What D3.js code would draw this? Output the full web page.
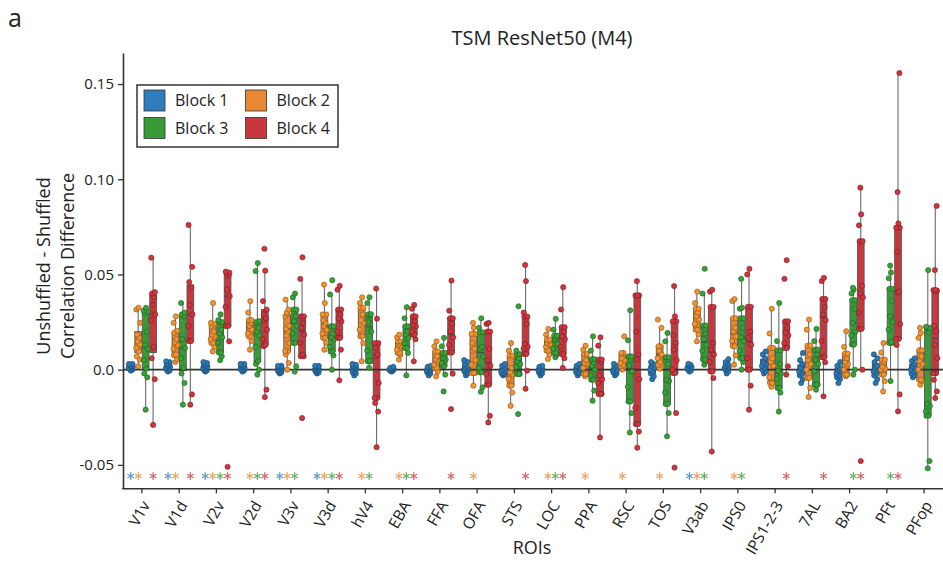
<!DOCTYPE html>
<meta charset="utf-8">
<style>
  body { margin: 0; background: #fff; }
  text { font-family: "Open Sans", sans-serif; fill: #222; }
  .tick text { font-size: 15px; }
  .axis path, .axis line { stroke: #333; }
</style>
<body>
<div id="vis"></div>
<script src="https://cdn.jsdelivr.net/npm/d3@7/dist/d3.min.js"></script>
<script>

const width = 943,
    height = 563;

const rois = ['V1v','V1d','V2v','V2d','V3v','V3d','hV4','EBA','FFA','OFA','STS','LOC','PPA','RSC','TOS','V3ab','IPS0','IPS1-2-3','7AL','BA2','PFt','PFop'];
const blocks = ['Block 1','Block 2','Block 3','Block 4'];
const unit = 1e-3; // values below are in thousandths

// one list of values per ROI, same order as rois
const block1 = [
  [-0.5,0,0.5,1,1,1.5,2,2,2.5,3,3],
  [-1,-0.5,0,0.5,1,1.5,2,2.5,3,4,4.4],
  [-1,-0.5,0,0.5,1,1.5,2,2.5,3,3.5,4],
  [-1,-0.5,0,0,0.5,1,1.5,2,2.5,3,3],
  [-2,-1.5,-1,-0.5,0,0.5,0.5,1,1.5,2,2],
  [-2,-1.5,-1,-0.5,0,0,0.5,1,1.5,2,2],
  [-3,-2,-1.5,-1,0,0.5,1,1.5,2,2.5,3],
  [-1,-0.5,-0.5,0,0,0.5,0.5,1,1,1.5],
  [-3,-2,-1.5,-1,-0.5,0,0.5,1,1.5,2],
  [-3,-2,-1,-0.5,0,0.5,1,2,3,4,5],
  [-3,-2.5,-2,-1.5,-1,-0.5,0,1,2,3],
  [-3,-2,-1.5,-1,-0.5,0,0.5,1,1.5,2],
  [-3,-2,-1.5,-1,0,0.5,1,1.5,2,3],
  [-3,-2,-1.5,-1,-0.5,0,1,2,3],
  [-5,-3.5,-2,-1,0,1,2,3,4],
  [-1,-0.5,0,0.5,1,1.5,2,2.5,3],
  [-2,-1,0,0.5,1,1.5,2,3,4,5.5],
  [-2,-1,0,1,2,3,4,6,8,9.6],
  [-7,-5,-3,-2,-1,0,1,3,5,8.8],
  [-7,-5,-4,-3,-2,-1,0,1,2,4],
  [-7,-5,-3,-2,-1,0,1,2,4,6,8],
  [-4,-3,-2,-1,0,1,2,3,4.5,6]
];
const block2 = [
  [1.8,5.3,7,9.6,11.4,13.2,14.9,16.7,18.4,24.6,31.6,32.5],
  [4,5.5,7.5,8,11,13,14.5,16,19.5,20.5,24.6,28],
  [9.6,12,14,14,16,17.5,18.4,20,23,24,24.6,35],
  [10.5,15,17.5,17.5,19,21,23,24.5,26,26,30,36],
  [0,3.5,8,9.6,9.8,14,18,20,21.5,23,28,29.2,30,31.6,36.8],
  [10.5,14,16.7,16.7,19,21,22.8,24.6,26,29,29,35,44.7],
  [4.4,14,17.5,17.5,21,24.6,26,29,32.5,32.5,35,38],
  [5.3,7.9,8.8,8.8,10.5,12.3,13,14,14.9,14.9,17,18.4],
  [-3.5,-1,0.9,0.9,2.6,4.4,5.5,7,9.6,9.6,12.3,14.9],
  [-8.4,-1.8,-1.8,-1.8,2.5,5,10,11,14,18.8,18.8,22,24.6],
  [-19,-12,-8.4,-8.4,-5,-2.6,-1.5,1,7.4,7.4,10,14],
  [5.6,8,10,10,12,13.3,14,15,15.8,15.8,18.4,21.4],
  [-3.5,-2.3,-2.3,-2.3,1,3,3.5,5,8.2,8.2,10.5,12.6],
  [0,1.8,1.8,2.5,3.5,5,6,8.8,8.8,17.5],
  [0.5,2.6,2.6,4,6,8,10,12.3,12.3,22,26.3],
  [14.9,18.5,21,21,24,26.3,28,30,32,32,35,41],
  [2.6,7.5,12.3,12.3,15,17.5,20,22,27,27,36,37],
  [-9,-7,-7,-7,-4,2,4,6,11.4,11.4,19,32],
  [-14.4,-9.6,-4.4,-4.4,0,3,5,8,12.6,12.6,21,26.3],
  [-3.5,-2.6,-2.6,-2.6,0,3,4,6,8.4,8.4,12,20.2],
  [-11.4,-6,-2.6,-2.6,0,0.5,1.5,4,5.3,5.3,9,14],
  [-7.9,-6,-5.3,-5.3,0,3,4.5,7,10.2,10.2,16.7,19.3,22]
];
const block3 = [
  [-21,-4,-2,0.5,5,11,13,20,30,30.5,31,32.5],
  [-18.4,-7,-2,1,6,11.4,16,28,29,30,35],
  [5,7,9,9,14,17,19,21,25,25,26,29],
  [-2.6,0,3,4.5,12,18,20,22,25,25.5,51.8,56],
  [-1,1.8,14,14,19,23,25.4,28,31.6,31.6,38,40],
  [0,7.5,9.6,9.6,12,15.8,17,19,22.8,22.8,39.5,47],
  [1,4.4,4.4,4.6,10,20,25,28.5,29,29.2,35,38],
  [-3,8.8,11.4,11.4,14,16.7,18.4,20,22.8,22.8,27,32.8],
  [-11.4,-2.6,1.8,1.8,3.5,5.3,6.1,7.9,8.8,8.8,12.3,16.7],
  [-11.6,-9.3,-1.4,-1.4,1,7,11,12,19.6,19.6,22,27],
  [-23.3,-2.3,-2.3,-2.3,1.5,3,4.5,6,8.2,8.2,10,33.3],
  [6.5,8,8.8,8.8,11,13.5,15.8,17,17.9,17.9,21,26.7],
  [-16.3,-11,-5.3,-5.3,-3,0,2,4,5.6,5.6,10,17.5],
  [-33,-22.8,-16.7,-16.7,-9,-1,2,5.3,7,7,15.4,31.2],
  [-35,-22.8,-18,-18,-12,-6,-5.3,3,6.5,6.5,14.9,19.3],
  [2.6,4.4,5.3,5.3,10,13,16,19,23.2,23.2,40,53],
  [0,4,6,6,10,15,17,22,27,27,32,32.5,47.7],
  [-22,-12,-9.6,-9.6,-5,-2,-0.5,3,10.2,10.2,15,35],
  [-10.5,-7.9,-7.9,-7.9,-1,3,5,8,10.5,10.5,15,21.4],
  [-2.6,0,13.2,13.2,18,20,24.6,32,36.5,36.5,40,42,43],
  [-6,14,14,14.5,21,25,28,36,42.5,42.5,48,51,54.7],
  [-51.8,-48,-24.2,-24.2,-22,-19,-18,19.5,22,22,22.5,52.3]
];
const block4 = [
  [-29,-5,6,12,26,29,34,38,40,40.7,58.8],
  [-18.4,-13,15,15,23,29,34,43,46,54,76],
  [-51,14.9,22.8,23,33,38.6,42,49.5,50.5,51,51.5],
  [-14.4,-10.5,12.3,13,16,21,26,27,29,31.6,36,52,63.5],
  [-25.4,7,7,8,14,18.4,22,24.6,28,28,47.7,59],
  [-5.6,10.5,16.7,16.7,20,25.4,27,29,31.6,31.6,42,44],
  [-40.7,-22,-17.5,-14.9,-14.9,-7,7,8,11.5,14,14,26.8,42.6],
  [4.4,16,18.4,18.4,20,22.8,23.5,25.4,28,28,32,34],
  [-20.7,-2.1,9,9,13,17,20,24,27,27,31,46.8],
  [-27.7,-24.2,-7.9,-7.9,-2.3,2.1,5,11,20,20,24,24.6],
  [-10,-0.5,8.2,8.2,11,12,13.5,24,27.9,27.9,30,46.5,55],
  [0.9,6,8.2,8.2,12,16,17.5,20,22.3,22.3,31.6,43.3],
  [-35.6,-12.8,-12.8,-12.8,-7,-5,-3,4,5.3,5.3,12.6,17],
  [-41,-32.5,-28.6,-28.6,-20,-5,5.3,8,20,39,39,39,46.5],
  [-51.4,-22.8,-1.8,-1.8,0,5,10.5,14,18,25.4,25.4,28,43.9],
  [-43,-4.4,-0.9,-0.9,4,8,10.5,14,33,33,41,42],
  [-21,-8.4,0,0,6,13,16.7,20,33,33,50,53],
  [-2.6,1.8,11.4,11.4,14,18,19.5,22,25.4,25.4,47.7,57.5],
  [-14,3.9,6.5,6.5,15,26,29,33,37.2,37.2,46.5,48.2],
  [-48,0,21.4,21.4,30,38,40,44,67.5,67.5,75.8,81.6,95.6],
  [-21.9,-13,13,16.1,16.1,24,40.5,41,62,74.6,74.6,76.8,93.3,155.8],
  [-14.9,-11.4,-5.3,-2,-2,6,13,20,23,41.5,41.8,41.8,52.3,86]
];
// blocks marked with an asterisk under each ROI
const stars = [[1,2,4],[1,2,4],[1,2,3,4],[2,3,4],[1,2,3],[1,2,3,4],[2,3],[2,3,4],[4],[2],[4],[2,3,4],[2],[2],[2],[1,2,3],[2,3],[4],[4],[3,4],[3,4],[]];
const yTicks = [-0.05, 0, 0.05, 0.10, 0.15];

const boxColors = ['#2f7dbd', '#e98733', '#399a39', '#c6383e'];
const dotColors = ['#2b78b6', '#f3922e', '#37a237', '#d0343c'];
const jitter = [0, 1.6, -1.4, 0.7, -2, 2.1, -0.6, 1.1, -1.1, 1.8, -1.8, 0.4, -0.4, 1.4, -1.6];

const x = d3.scaleBand().domain(rois).range([123.3, 942.7]);
const sub = d3.scaleBand().domain([0,1,2,3]).range([-0.4*x.step(), 0.4*x.step()]);
const y = d3.scaleLinear().domain([-0.0623, 0.1663]).range([488.3, 53]);

const data = [];
[block1, block2, block3, block4].forEach((b, j) => {
  b.forEach((vals, i) => {
    let v = vals.map(d => d*unit).sort(d3.ascending);
    let q1 = d3.quantile(v, 0.25), med = d3.quantile(v, 0.5), q3 = d3.quantile(v, 0.75);
    let iqr = q3 - q1;
    let lo = d3.min(v.filter(d => d >= q1 - 1.5*iqr));
    let hi = d3.max(v.filter(d => d <= q3 + 1.5*iqr));
    data.push({roi: rois[i], block: j, values: v, q1, med, q3, lo, hi,
      cx: x(rois[i]) + x.bandwidth()/2 + sub(j) + sub.bandwidth()/2});
  });
});

const svg = d3.select('#vis').append('svg')
    .attr('width', width)
    .attr('height', height);

svg.append('text')
    .attr('x', 8).attr('y', 27)
    .style('font-size', '25px')
    .text('a');
svg.append('text')
    .attr('x', 542).attr('y', 45)
    .attr('text-anchor', 'middle')
    .style('font-size', '20px')
    .text('TSM ResNet50 (M4)');

// boxes
const bw = sub.bandwidth()*0.9;
const boxG = svg.append('g');
const bx = boxG.selectAll('g').data(data).enter().append('g');
bx.append('line')
    .attr('x1', d => d.cx).attr('x2', d => d.cx)
    .attr('y1', d => y(d.hi)).attr('y2', d => y(d.lo))
    .style('stroke', '#6a6a6a').style('stroke-width', 1.1);
bx.append('rect')
    .attr('x', d => d.cx - bw/2).attr('width', bw)
    .attr('y', d => y(d.q3)).attr('height', d => Math.max(0.5, y(d.q1) - y(d.q3)))
    .style('fill', d => boxColors[d.block])
    .style('stroke', '#555').style('stroke-width', 0.9);
bx.append('line')
    .attr('x1', d => d.cx - bw/2).attr('x2', d => d.cx + bw/2)
    .attr('y1', d => y(d.med)).attr('y2', d => y(d.med))
    .style('stroke', '#444').style('stroke-width', 1);

// zero line
svg.append('line')
    .attr('x1', 123).attr('x2', width)
    .attr('y1', y(0)).attr('y2', y(0))
    .style('stroke', '#333').style('stroke-width', 1.6);

// points
svg.append('g').selectAll('g').data(data).enter().append('g')
  .selectAll('circle')
  .data(d => d.values.map((v, k) => ({v, k, d})))
  .enter().append('circle')
    .attr('cx', p => p.d.cx + jitter[p.k % jitter.length])
    .attr('cy', p => y(p.v))
    .attr('r', 2.6)
    .style('fill', p => dotColors[p.d.block])
    .style('stroke', p => d3.rgb(dotColors[p.d.block]).darker(1.6))
    .style('stroke-width', 0.6);

// significance asterisks
const starG = svg.append('g');
stars.forEach((s, i) => {
  s.forEach(b => {
    let cx = x(rois[i]) + x.bandwidth()/2 + sub(b-1) + sub.bandwidth()/2;
    let cy = y(-0.0559);
    let r = 3.8;
    let path = d3.range(3).map(k => {
      let a = Math.PI/2 + k*Math.PI/3;
      return 'M'+(cx+r*Math.cos(a))+','+(cy+r*Math.sin(a))+'L'+(cx-r*Math.cos(a))+','+(cy-r*Math.sin(a));
    }).join('');
    starG.append('path')
      .attr('d', path)
      .style('stroke', boxColors[b-1])
      .style('stroke-width', 1.3)
      .style('opacity', 0.75);
  });
});

// axes
const yAxis = svg.append('g')
    .attr('class', 'axis')
    .attr('transform', 'translate(123,0)')
    .call(d3.axisLeft(y).tickValues(yTicks).tickSize(5).tickSizeOuter(0)
      .tickFormat(d => d === 0 ? '0.0' : d3.format('.2f')(d).replace('−', '-')));
yAxis.select('.domain').style('stroke-width', 1.6);
yAxis.selectAll('.tick line').style('stroke-width', 1.3);
yAxis.selectAll('.tick text').attr('x', -9).style('fill', '#222');

const xAxis = svg.append('g')
    .attr('class', 'axis')
    .attr('transform', 'translate(0,488.3)')
    .call(d3.axisBottom(x).tickSize(5).tickSizeOuter(0));
xAxis.select('.domain').attr('d', 'M122.2,0.5H' + width).style('stroke-width', 1.6);
xAxis.selectAll('.tick line').style('stroke-width', 1.3);
xAxis.selectAll('.tick text')
    .attr('y', 0).attr('dy', '0.35em')
    .attr('transform', 'translate(4,14) rotate(-60)')
    .style('text-anchor', 'end')
    .style('font-size', '15.5px')
    .style('fill', '#222');

svg.append('text')
    .attr('x', 532).attr('y', 554)
    .attr('text-anchor', 'middle')
    .style('font-size', '18px')
    .text('ROIs');
svg.append('text')
    .attr('transform', 'translate(50,266) rotate(-90)')
    .attr('text-anchor', 'middle')
    .style('font-size', '18px')
    .text('Unshuffled - Shuffled');
svg.append('text')
    .attr('transform', 'translate(74,266) rotate(-90)')
    .attr('text-anchor', 'middle')
    .style('font-size', '18px')
    .text('Correlation Difference');

// legend
const leg = svg.append('g').attr('transform', 'translate(137,85)');
leg.append('rect')
    .attr('width', 201).attr('height', 62)
    .style('fill', '#fff').style('stroke', '#333').style('stroke-width', 1.5);
blocks.forEach((b, j) => {
  let col = j % 2, row = Math.floor(j/2);
  let g = leg.append('g').attr('transform', 'translate(' + (7 + col*101.5) + ',' + (5 + row*27.5) + ')');
  g.append('rect')
    .attr('width', 21).attr('height', 21)
    .style('fill', boxColors[j]).style('stroke', '#333').style('stroke-width', 0.8);
  g.append('text')
    .attr('x', 31).attr('y', 10.5).attr('dy', '0.35em')
    .style('font-size', '16px')
    .text(b);
});

</script>
</body>
